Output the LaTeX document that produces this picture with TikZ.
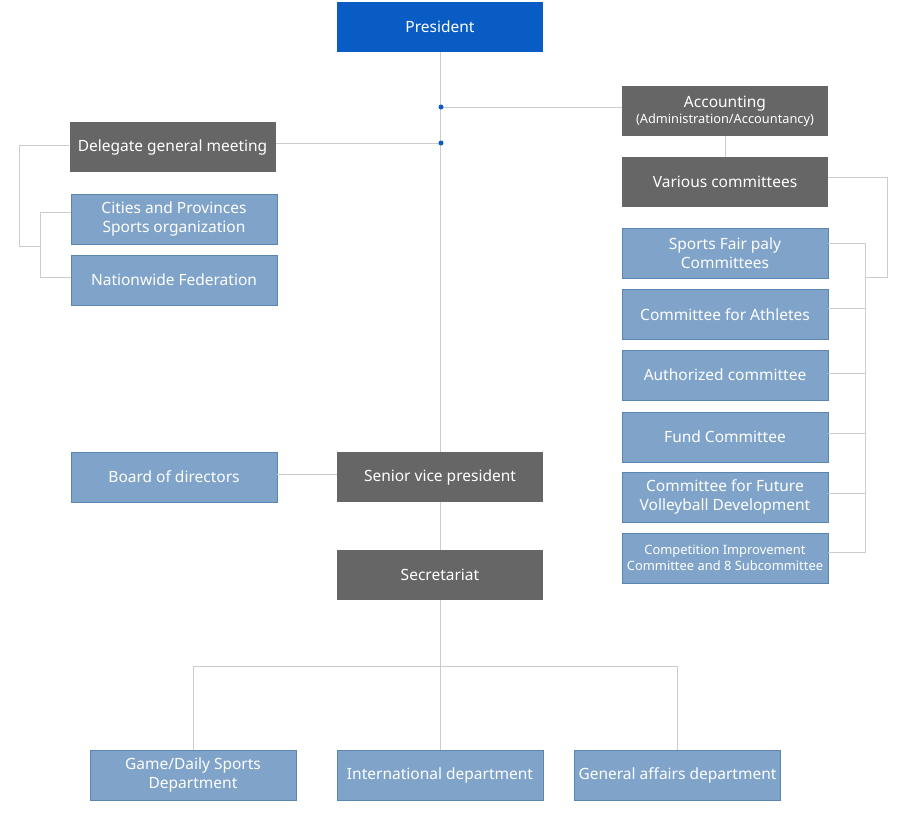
\documentclass[tikz,border=0pt]{standalone}
\usepackage{fontspec}
\setmainfont{Noto Sans}
\definecolor{presblue}{HTML}{0A5CC5}
\definecolor{darkbox}{HTML}{666666}
\definecolor{lightbox}{HTML}{7FA3C9}
\definecolor{lightedge}{HTML}{5A86B2}
\definecolor{linegray}{HTML}{CCCCCC}
\begin{document}
\begin{tikzpicture}[x=1pt,y=-1pt,
  base/.style={minimum width=206pt,minimum height=50pt,inner sep=0pt,align=center,text=white,font=\fontsize{15.5}{19}\selectfont},
  presbox/.style={base,fill=presblue},
  darkb/.style={base,fill=darkbox},
  lightb/.style={base,fill=lightbox,draw=lightedge,line width=0.8pt},
  conn/.style={draw=linegray,line width=0.9pt},
  dot/.style={circle,fill=presblue,inner sep=0pt,minimum size=5pt}
]
\useasboundingbox (0,0) rectangle (906,819);
% nodes
\node[presbox] (pres) at (440,26.5) {President};
\node[darkb] (acc) at (725,111) {Accounting\\[-3pt]{\fontsize{12.8}{15}\selectfont(Administration/Accountancy)}};
\node[darkb] (var) at (725,182) {Various committees};
\node[darkb] (dgm) at (172.5,147) {Delegate general meeting};
\node[lightb] (city) at (174,219) {Cities and Provinces\\Sports organization};
\node[lightb] (nat) at (174,280) {Nationwide Federation};
\node[lightb] (sf) at (725,253.5) {Sports Fair paly\\Committees};
\node[lightb] (ath) at (725,314.5) {Committee for Athletes};
\node[lightb] (auth) at (725,375) {Authorized committee};
\node[lightb] (fund) at (725,437) {Fund Committee};
\node[lightb] (fut) at (725,497) {Committee for Future\\Volleyball Development};
\node[lightb,font=\fontsize{12.9}{16}\selectfont] (cmp) at (725,558) {Competition Improvement\\Committee and 8 Subcommittee};
\node[lightb] (bod) at (174,477) {Board of directors};
\node[darkb] (svp) at (440,477) {Senior vice president};
\node[darkb] (sec) at (440,575) {Secretariat};
\node[lightb] (game) at (193,775) {Game/Daily Sports\\Department};
\node[lightb] (intl) at (440,775) {International department};
\node[lightb] (gen) at (677.5,775) {General affairs department};
% coordinates
\coordinate (d1) at (441,107);
\coordinate (d2) at (441,143);
\coordinate (lbo) at (19,246);
\coordinate (lbi) at (40,246);
\coordinate (rbo) at (887,277);
\coordinate (rbi) at (865,277);
\coordinate (bh) at (441,666);
% connectors
\draw[conn] (pres.south) -- (svp.north);
\draw[conn] (svp.south) -- (sec.north);
\draw[conn] (sec.south) -- (intl.north);
\draw[conn] (d1) -- (d1 -| acc.west);
\draw[conn] (dgm.east |- d2) -- (d2);
\draw[conn] (acc.south) -- (var.north);
% left bracket
\draw[conn] ([yshift=2pt]dgm.west) -| (lbo) -- (lbi);
\draw[conn] ([yshift=7pt]city.west) -| (lbi);
\draw[conn] ([yshift=3pt]nat.west) -| (lbi);
% right bracket
\draw[conn] ([yshift=5pt]var.east) -| (rbo) -- (rbi);
\draw[conn] ([yshift=10pt]sf.east) -| ([yshift=6pt]cmp.east -| rbi) -- ([yshift=6pt]cmp.east);
\draw[conn] ([yshift=6pt]ath.east) -- ([yshift=6pt]ath.east -| rbi);
\draw[conn] ([yshift=2pt]auth.east) -- ([yshift=2pt]auth.east -| rbi);
\draw[conn] ([yshift=4pt]fund.east) -- ([yshift=4pt]fund.east -| rbi);
\draw[conn] ([yshift=4pt]fut.east) -- ([yshift=4pt]fut.east -| rbi);
% board
\draw[conn] ([yshift=3pt]bod.east) -- ([yshift=3pt]bod.east -| svp.west);
% bottom
\draw[conn] (game.north) -- (game.north |- bh) -- (gen.north |- bh) -- (gen.north);
\node[dot] at (d1) {};
\node[dot] at (d2) {};
\end{tikzpicture}
\end{document}
